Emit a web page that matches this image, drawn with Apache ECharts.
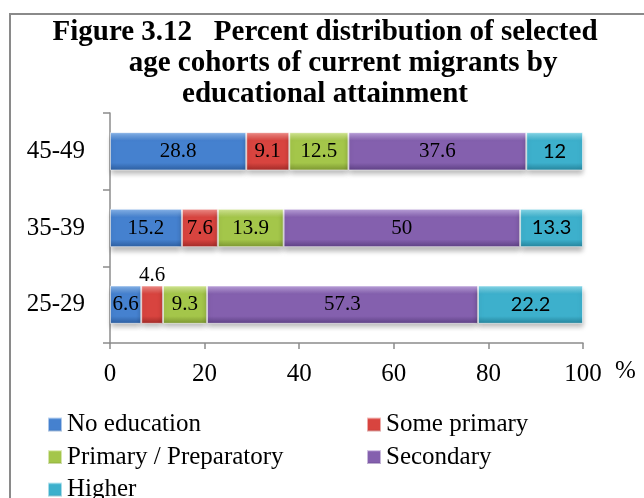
<!DOCTYPE html>
<html>
<head>
<meta charset="utf-8">
<script src="https://cdn.jsdelivr.net/npm/echarts@6/dist/echarts.min.js"></script>
<style>
  html, body { margin: 0; padding: 0; background: #fff; }
  #main { width: 644px; height: 498px; }
</style>
</head>
<body>
<div id="main"></div>
<script>
// 数据
var categories = ['25-29', '35-39', '45-49'];
var noEducation = [6.6, 15.2, 28.8];
var somePrimary = [4.6, 7.6, 9.1];
var primaryPrep = [9.3, 13.9, 12.5];
var secondary = [57.3, 50, 37.6];
var higher = [22.2, 13.3, 12];
var xTicks = [0, 20, 40, 60, 80, 100];

var serif = 'Liberation Serif';

// 斜面渐变
function bevel(light, main, dark) {
    return {
        type: 'linear', x: 0, y: 0, x2: 0, y2: 1,
        colorStops: [
            { offset: 0, color: light },
            { offset: 0.22, color: main },
            { offset: 0.8, color: main },
            { offset: 1, color: dark }
        ]
    };
}

function barSeries(name, values, colors, labelFont) {
    return {
        name: name,
        type: 'bar',
        stack: 'total',
        barCategoryGap: '50%',
        data: values,
        itemStyle: {
            color: bevel(colors[0], colors[1], colors[2]),
            borderColor: 'rgba(255,255,255,0.55)',
            borderWidth: 1,
            shadowColor: 'rgba(0,0,0,0.28)',
            shadowBlur: 5,
            shadowOffsetY: 4
        },
        label: {
            show: true,
            position: 'inside',
            color: '#000',
            fontFamily: labelFont || serif,
            fontSize: labelFont ? 20 : 21,
            overflow: 'none'
        }
    };
}

// 4.6 标签放在柱子上方
var somePrimaryData = somePrimary.map(function (v, i) {
    if (i === 0) {
        return { value: v, label: { position: 'top', distance: 0 } };
    }
    return v;
});

var legendText = { fontFamily: serif, fontSize: 25, lineHeight: 25, color: '#000' };

var myChart = echarts.init(document.getElementById('main'));

var option = {
    animation: false,
    textStyle: { fontFamily: serif },
    title: {
        text: 'Figure 3.12   Percent distribution of selected\n     age cohorts of current migrants by\neducational attainment',
        left: 325,
        top: 17,
        textAlign: 'center',
        padding: 0,
        textStyle: {
            fontFamily: serif,
            fontWeight: 'bold',
            fontSize: 29,
            lineHeight: 31,
            color: '#000'
        }
    },
    legend: [{
        orient: 'vertical',
        left: 47,
        top: 412,
        height: 120,
        padding: 0,
        itemGap: 7.5,
        itemWidth: 14,
        itemHeight: 14,
        icon: 'rect',
        data: ['No education', 'Primary / Preparatory', 'Higher'],
        textStyle: legendText
    }, {
        orient: 'vertical',
        left: 366,
        top: 412,
        height: 120,
        padding: 0,
        itemGap: 7.5,
        itemWidth: 14,
        itemHeight: 14,
        icon: 'rect',
        data: ['Some primary', 'Secondary'],
        textStyle: legendText
    }],
    grid: {
        left: 110,
        right: 61,
        top: 113,
        bottom: 155,
        containLabel: false,
        outerBoundsMode: 'none'
    },
    xAxis: {
        type: 'value',
        min: xTicks[0],
        max: xTicks[xTicks.length - 1],
        interval: xTicks[1] - xTicks[0],
        name: '%',
        nameLocation: 'end',
        nameGap: 32,
        nameTextStyle: {
            fontFamily: serif,
            fontSize: 25,
            lineHeight: 25,
            color: '#000',
            verticalAlign: 'top',
            padding: [16, 0, 0, 0]
        },
        splitLine: { show: false },
        axisLine: { show: true, lineStyle: { color: '#8c8c8c', width: 1.5 } },
        axisTick: { show: true, length: 6, lineStyle: { color: '#8c8c8c', width: 1.5 } },
        axisLabel: { fontFamily: serif, fontSize: 25, color: '#000', margin: 19 }
    },
    yAxis: {
        type: 'category',
        data: categories,
        axisLine: { show: true, lineStyle: { color: '#8c8c8c', width: 1.5 } },
        axisTick: { show: true, length: 7, lineStyle: { color: '#8c8c8c', width: 1.5 } },
        axisLabel: { fontFamily: serif, fontSize: 25, color: '#000', margin: 25 }
    },
    graphic: [{
        type: 'rect',
        shape: { x: 10, y: 14, width: 700, height: 520 },
        style: { fill: 'none', stroke: '#8a8a8a', lineWidth: 2 },
        silent: true,
        z: -1
    }],
    series: [
        barSeries('No education', noEducation, ['#8ab6ea', '#4581cf', '#2c5d9e']),
        barSeries('Some primary', somePrimaryData, ['#f0908b', '#d8443f', '#9e2a27']),
        barSeries('Primary / Preparatory', primaryPrep, ['#d4e897', '#a4c64a', '#7a9430']),
        barSeries('Secondary', secondary, ['#bda3dc', '#8460ae', '#5c3f82']),
        barSeries('Higher', higher, ['#8ad9ea', '#3db0cc', '#25829a'], 'Lato')
    ]
};

myChart.setOption(option);
</script>
</body>
</html>
